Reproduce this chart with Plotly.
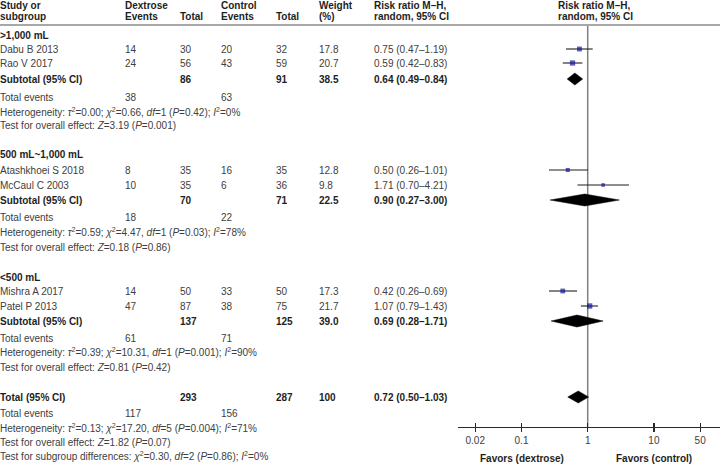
import math
import plotly.graph_objects as go

# ---------------- data ----------------
groups = [">1,000 mL", "500 mL~1,000 mL", "<500 mL"]
studies = [["Dabu B 2013", "Rao V 2017"],
           ["Atashkhoei S 2018", "McCaul C 2003"],
           ["Mishra A 2017", "Patel P 2013"]]
dex_events = [[14, 24], [8, 10], [14, 47]]
dex_total = [[30, 56], [35, 35], [50, 87]]
ctl_events = [[20, 43], [16, 6], [33, 38]]
ctl_total = [[32, 59], [35, 36], [50, 75]]
weights = [[17.8, 20.7], [12.8, 9.8], [17.3, 21.7]]
rr = [[0.75, 0.59], [0.50, 1.71], [0.42, 1.07]]
rr_lo = [[0.47, 0.42], [0.26, 0.70], [0.26, 0.79]]
rr_hi = [[1.19, 0.83], [1.01, 4.21], [0.69, 1.43]]

sub_dex_total = [86, 70, 137]
sub_ctl_total = [91, 71, 125]
sub_weight = [38.5, 22.5, 39.0]
sub_rr = [0.64, 0.90, 0.69]
sub_lo = [0.49, 0.27, 0.28]
sub_hi = [0.84, 3.00, 1.71]
sub_dex_events = [38, 18, 61]
sub_ctl_events = [63, 22, 71]
het_tau2 = ["0.00", "0.59", "0.39"]
het_chi2 = ["0.66", "4.47", "10.31"]
het_df = ["1", "1", "1"]
het_p = ["0.42", "0.03", "0.001"]
het_i2 = ["0%", "78%", "90%"]
eff_z = ["3.19", "0.18", "0.81"]
eff_p = ["0.001", "0.86", "0.42"]

tot_dex_total = 293
tot_ctl_total = 287
tot_weight = "100"
tot_rr, tot_lo, tot_hi = 0.72, 0.50, 1.03
tot_dex_events = 117
tot_ctl_events = 156
tot_het = ("0.13", "17.20", "5", "0.004", "71%")
tot_eff = ("1.82", "0.07")
subgroup_diff = ("0.30", "2", "0.86", "0%")

tick_vals = [0.02, 0.1, 1, 10, 50]
tick_text = ["0.02", "0.1", "1", "10", "50"]

# ---------------- layout positions (pixels) ----------------
W, H = 720, 464
y_label = [35, 154, 277]
y_study = [[49, 63], [170, 185], [291, 306]]
y_sub = [79, 200, 321]
y_events = [97, 217, 338]
y_het = [112, 232, 352]
y_eff = [125, 247, 367]
y_tot, y_tot_events, y_tot_het, y_tot_eff, y_subdiff = 397, 413, 428, 442, 456

x_study, x_dexev, x_dextot, x_ctlev, x_ctltot, x_wt, x_rr, x_hdr2 = 0, 125, 180, 221, 276, 319, 374, 558
axis_y = 427
plot_left = 458
one_px = 587.7
decade = 66.2

NORMAL = "#404040"
BOLD = "#1e1e1e"
FONT = "Liberation Sans, Arial, sans-serif"
FS = 10

annotations = []


def txt(x, y, s, bold=False, anchor="left"):
    annotations.append(dict(
        x=x, y=y, xref="x", yref="y", text=("<b>%s</b>" % s) if bold else s,
        showarrow=False, xanchor=anchor, yanchor="middle", borderpad=0, borderwidth=0,
        font=dict(size=FS, color=BOLD if bold else NORMAL, family=FONT)))


def rrfmt(a, b, c):
    return "%.2f (%.2f\u2013%.2f)" % (a, b, c)


def het_text(t2, c2, df, p, i2):
    return ("Heterogeneity: <i>\u03c4</i><sup>2</sup>=%s; <i>\u03c7</i><sup>2</sup>=%s, "
            "<i>df</i>=%s (<i>P</i>=%s); <i>I</i><sup>2</sup>=%s" % (t2, c2, df, p, i2))


def eff_text(z, p):
    return "Test for overall effect: <i>Z</i>=%s (<i>P</i>=%s)" % (z, p)


# headers
hdr_y1, hdr_y2 = 5, 16
txt(x_study, hdr_y1, "Study or", True)
txt(x_study, hdr_y2, "subgroup", True)
txt(x_dexev, hdr_y1, "Dextrose", True)
txt(x_dexev, hdr_y2, "Events", True)
txt(x_dextot, hdr_y2, "Total", True)
txt(x_ctlev, hdr_y1, "Control", True)
txt(x_ctlev, hdr_y2, "Events", True)
txt(x_ctltot, hdr_y2, "Total", True)
txt(x_wt, hdr_y1, "Weight", True)
txt(x_wt, hdr_y2, "(%)", True)
txt(x_rr, hdr_y1, "Risk ratio M\u2013H,", True)
txt(x_rr, hdr_y2, "random, 95% CI", True)
txt(x_hdr2, hdr_y1, "Risk ratio M\u2013H,", True)
txt(x_hdr2, hdr_y2, "random, 95% CI", True)

for g in range(3):
    txt(x_study, y_label[g], groups[g], True)
    for k in range(2):
        y = y_study[g][k]
        txt(x_study, y, studies[g][k])
        txt(x_dexev, y, str(dex_events[g][k]))
        txt(x_dextot, y, str(dex_total[g][k]))
        txt(x_ctlev, y, str(ctl_events[g][k]))
        txt(x_ctltot, y, str(ctl_total[g][k]))
        txt(x_wt, y, "%.1f" % weights[g][k])
        txt(x_rr, y, rrfmt(rr[g][k], rr_lo[g][k], rr_hi[g][k]))
    y = y_sub[g]
    txt(x_study, y, "Subtotal (95% CI)", True)
    txt(x_dextot, y, str(sub_dex_total[g]), True)
    txt(x_ctltot, y, str(sub_ctl_total[g]), True)
    txt(x_wt, y, "%.1f" % sub_weight[g], True)
    txt(x_rr, y, rrfmt(sub_rr[g], sub_lo[g], sub_hi[g]), True)
    txt(x_study, y_events[g], "Total events")
    txt(x_dexev, y_events[g], str(sub_dex_events[g]))
    txt(x_ctlev, y_events[g], str(sub_ctl_events[g]))
    txt(x_study, y_het[g], het_text(het_tau2[g], het_chi2[g], het_df[g], het_p[g], het_i2[g]))
    txt(x_study, y_eff[g], eff_text(eff_z[g], eff_p[g]))

txt(x_study, y_tot, "Total (95% CI)", True)
txt(x_dextot, y_tot, str(tot_dex_total), True)
txt(x_ctltot, y_tot, str(tot_ctl_total), True)
txt(x_wt, y_tot, tot_weight, True)
txt(x_rr, y_tot, rrfmt(tot_rr, tot_lo, tot_hi), True)
txt(x_study, y_tot_events, "Total events")
txt(x_dexev, y_tot_events, str(tot_dex_events))
txt(x_ctlev, y_tot_events, str(tot_ctl_events))
txt(x_study, y_tot_het, het_text(*tot_het))
txt(x_study, y_tot_eff, eff_text(*tot_eff))
txt(x_study, y_subdiff,
    "Test for subgroup differences: <i>\u03c7</i><sup>2</sup>=%s, <i>df</i>=%s (<i>P</i>=%s); "
    "<i>I</i><sup>2</sup>=%s" % subgroup_diff)

# favors labels
annotations.append(dict(x=math.log10(0.1), y=458, xref="x2", yref="y", text="<b>Favors (dextrose)</b>",
                        showarrow=False, xanchor="center", yanchor="middle",
                        font=dict(size=FS, color=BOLD, family=FONT)))
annotations.append(dict(x=math.log10(10), y=458, xref="x2", yref="y", text="<b>Favors (control)</b>",
                        showarrow=False, xanchor="center", yanchor="middle",
                        font=dict(size=FS, color=BOLD, family=FONT)))

# ---------------- traces ----------------
fig = go.Figure()
xr_lo = (plot_left - one_px) / decade
xr_hi = (W - one_px) / decade

# line of no effect
fig.add_trace(go.Scatter(x=[1, 1], y=[26, axis_y], mode="lines", xaxis="x2", yaxis="y",
                         line=dict(color="#808080", width=1.5), hoverinfo="skip", showlegend=False))

# CI lines
cx, cy, sx, sy, ss = [], [], [], [], []
for g in range(3):
    for k in range(2):
        y = y_study[g][k]
        cx += [rr_lo[g][k], rr_hi[g][k], None]
        cy += [y, y, None]
        sx.append(rr[g][k])
        sy.append(y)
        ss.append(math.sqrt(weights[g][k]) * 1.15)
fig.add_trace(go.Scatter(x=cx, y=cy, mode="lines", xaxis="x2", yaxis="y",
                         line=dict(color="#1e1e1e", width=1.1), hoverinfo="skip", showlegend=False))
fig.add_trace(go.Scatter(x=sx, y=sy, mode="markers", xaxis="x2", yaxis="y",
                         marker=dict(symbol="square", size=ss, color="#16169a", line=dict(width=0)),
                         hoverinfo="skip", showlegend=False))

# diamonds
half = 6
dia = [(sub_rr[g], sub_lo[g], sub_hi[g], y_sub[g]) for g in range(3)] + [(tot_rr, tot_lo, tot_hi, y_tot)]
for (m, lo, hi, y) in dia:
    fig.add_trace(go.Scatter(x=[lo, m, hi, m, lo], y=[y, y - half, y, y + half, y], mode="lines",
                             fill="toself", fillcolor="black", line=dict(color="black", width=0.5),
                             xaxis="x2", yaxis="y", hoverinfo="skip", showlegend=False))

# dummy for overlay tick axis
fig.add_trace(go.Scatter(x=[1], y=[axis_y], mode="markers", marker=dict(opacity=0), xaxis="x3", yaxis="y",
                         hoverinfo="skip", showlegend=False))

axis2 = dict(type="log", range=[xr_lo, xr_hi], domain=[plot_left / W, 1], anchor="free",
             position=(H - axis_y) / H, showgrid=False, zeroline=False, fixedrange=True)
fig.update_layout(
    width=W, height=H, autosize=False, margin=dict(l=0, r=0, t=0, b=0),
    paper_bgcolor="white", plot_bgcolor="white",
    xaxis=dict(range=[0, W], domain=[0, 1], visible=False, fixedrange=True),
    yaxis=dict(range=[H, 0], domain=[0, 1], visible=False, fixedrange=True),
    xaxis2=dict(**axis2, showline=True, linecolor="#2a2a2a", linewidth=1.2, ticks="outside", ticklen=4,
                tickwidth=1.2, tickcolor="#2a2a2a", tickvals=tick_vals, ticktext=tick_text,
                tickfont=dict(size=FS, color=NORMAL, family=FONT)),
    xaxis3=dict(**axis2, overlaying="x2", showline=False, ticks="inside", ticklen=4, tickwidth=1.2,
                tickcolor="#2a2a2a", tickvals=tick_vals, showticklabels=False),
    annotations=annotations,
    shapes=[dict(type="line", xref="paper", yref="y", x0=0, x1=1, y0=25, y1=25,
                 line=dict(color="#505050", width=1))],
    showlegend=False,
)

fig.write_html("out.html", config={"displayModeBar": False, "staticPlot": True},
               post_script="document.body.style.margin='0';document.body.style.padding='0';")
